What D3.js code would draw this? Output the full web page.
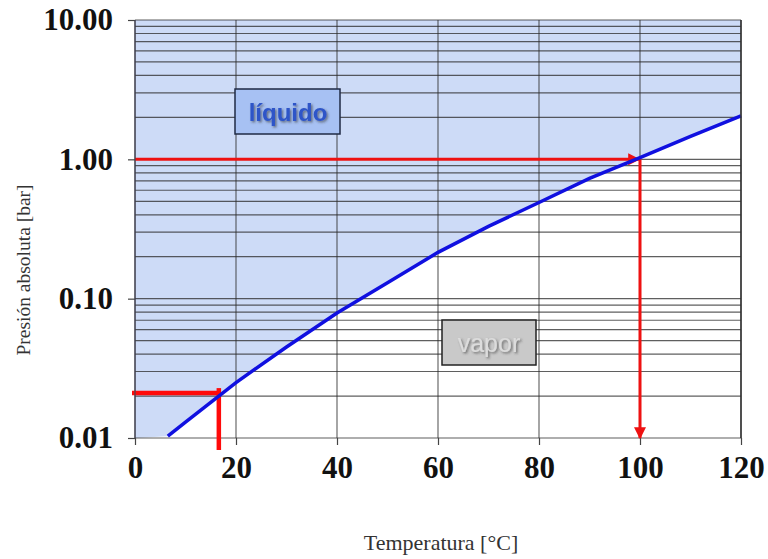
<!DOCTYPE html>
<html>
<head>
<meta charset="utf-8">
<script src="https://cdn.jsdelivr.net/npm/d3@7"></script>
<style>
  body { margin: 0; background: #fff; }
  .tick text { font-family: "Liberation Serif", serif; font-weight: bold; font-size: 31px; fill: #111; }
</style>
</head>
<body>
<div class="board"></div>
<script>
// saturation curve
var temps = [6.5, 10, 20, 30, 40, 50, 60, 70, 80, 90, 100, 110, 120];
var pressures = [0.0103, 0.013, 0.025, 0.045, 0.079, 0.13, 0.215, 0.33, 0.49, 0.73, 1.03, 1.46, 2.05];
var xTicks = [0, 20, 40, 60, 80, 100, 120];
var yTicks = [0.01, 0.1, 1, 10];
// red guide lines: [temperature, pressure]
var boilPoint = [100, 1.0];
var roomPoint = [16.6, 0.021];

var svg = d3.select('.board')
  .append('svg')
  .attr('width', 768)
  .attr('height', 559);

var x = d3.scaleLinear().domain([0, 120]).range([135, 741]);
var y = d3.scaleLog().domain([0.01, 10]).range([438, 20]);

var pts = temps.map(function(t, i) { return [t, pressures[i]]; });

// liquid region (above the curve)
var areaPts = [[0, 0.01]].concat(pts).concat([[120, 10], [0, 10]]);
svg.append('path')
  .attr('d', d3.line().x(function(d) { return x(d[0]); }).y(function(d) { return y(d[1]); })(areaPts) + 'Z')
  .style('fill', '#cddbf7');

// grid
var minor = [];
[0.01, 0.1, 1].forEach(function(dec) {
  for (var k = 1; k <= 9; k++) minor.push(dec * k);
});
minor.push(10);
svg.selectAll('.hgrid')
  .data(minor)
  .enter()
  .append('line')
  .attr('x1', x(0)).attr('x2', x(120))
  .attr('y1', function(d) { return y(d); })
  .attr('y2', function(d) { return y(d); })
  .style('stroke', '#2a2a2a')
  .style('stroke-opacity', 0.75)
  .style('stroke-width', 1.2);

svg.selectAll('.vgrid')
  .data(xTicks)
  .enter()
  .append('line')
  .attr('x1', function(d) { return x(d); })
  .attr('x2', function(d) { return x(d); })
  .attr('y1', y(10)).attr('y2', y(0.01))
  .style('stroke', '#2a2a2a')
  .style('stroke-opacity', 0.7)
  .style('stroke-width', 1.2);

// axes
var yAxis = svg.append('g')
  .attr('transform', 'translate(' + x(0) + ',0)')
  .call(d3.axisLeft(y).tickValues(yTicks).tickFormat(d3.format('.2f')).tickSize(7).tickPadding(15));
var xAxis = svg.append('g')
  .attr('transform', 'translate(0,' + y(0.01) + ')')
  .call(d3.axisBottom(x).tickValues(xTicks).tickSize(7).tickPadding(11));
[yAxis, xAxis].forEach(function(a) {
  a.select('.domain').remove();
  a.selectAll('.tick line').style('stroke', '#444').style('stroke-width', 1.2);
});

// red guides
var marker = svg.append('defs');
marker.append('marker')
  .attr('id', 'arr')
  .attr('viewBox', '0 0 10 10')
  .attr('refX', 9).attr('refY', 5)
  .attr('markerWidth', 4).attr('markerHeight', 4)
  .attr('orient', 'auto')
  .append('path')
  .attr('d', 'M0,0 L10,5 L0,10 Z')
  .style('fill', '#ee1111');

svg.append('line')
  .attr('x1', x(0)).attr('x2', x(boilPoint[0]) - 1)
  .attr('y1', y(boilPoint[1])).attr('y2', y(boilPoint[1]))
  .attr('marker-end', 'url(#arr)')
  .style('stroke', '#ee1111').style('stroke-width', 3);
svg.append('line')
  .attr('x1', x(boilPoint[0])).attr('x2', x(boilPoint[0]))
  .attr('y1', y(boilPoint[1])).attr('y2', y(0.01))
  .attr('marker-end', 'url(#arr)')
  .style('stroke', '#ee1111').style('stroke-width', 3);

svg.append('line')
  .attr('x1', x(0) - 3).attr('x2', x(roomPoint[0]) + 2)
  .attr('y1', y(roomPoint[1])).attr('y2', y(roomPoint[1]))
  .style('stroke', '#ff0a0a').style('stroke-width', 4.5);
svg.append('line')
  .attr('x1', x(roomPoint[0])).attr('x2', x(roomPoint[0]))
  .attr('y1', y(roomPoint[1]) - 5).attr('y2', y(0.01) + 12)
  .style('stroke', '#ff0a0a').style('stroke-width', 4.5);

// saturation curve
svg.append('path')
  .attr('d', d3.line().x(function(d) { return x(d[0]); }).y(function(d) { return y(d[1]); })(pts))
  .style('fill', 'none')
  .style('stroke', '#1010e0')
  .style('stroke-width', 3.5);

// plot border sides
svg.append('line').attr('x1', x(0)).attr('x2', x(0)).attr('y1', y(10)).attr('y2', y(0.01))
  .style('stroke', '#445').style('stroke-width', 1.2);
svg.append('line').attr('x1', x(120)).attr('x2', x(120)).attr('y1', y(10)).attr('y2', y(0.01))
  .style('stroke', '#333').style('stroke-width', 1.5);

// region labels
var shadow = svg.select('defs').append('filter').attr('id', 'sh')
  .attr('x', '-10%').attr('y', '-10%').attr('width', '130%').attr('height', '140%');
shadow.append('feDropShadow').attr('dx', 1.5).attr('dy', 1.5).attr('stdDeviation', 0.8)
  .attr('flood-color', '#333').attr('flood-opacity', 0.6);

svg.append('rect')
  .attr('x', 235).attr('y', 89).attr('width', 105).attr('height', 45)
  .style('fill', '#a7c1f3').style('stroke', '#1f2a44').style('stroke-width', 1.5);
svg.append('text')
  .attr('x', 288).attr('y', 121)
  .attr('text-anchor', 'middle')
  .attr('filter', 'url(#sh)')
  .style('font-family', 'Liberation Sans, Arial, sans-serif')
  .style('font-weight', 'bold')
  .style('font-size', '24px')
  .style('fill', '#2d55c8')
  .text('líquido');

svg.append('rect')
  .attr('x', 442).attr('y', 320).attr('width', 94).attr('height', 45)
  .style('fill', '#c9c9c9').style('stroke', '#222').style('stroke-width', 1.5);
svg.append('text')
  .attr('x', 489).attr('y', 352)
  .attr('text-anchor', 'middle')
  .attr('filter', 'url(#sh)')
  .style('font-family', 'Liberation Sans, Arial, sans-serif')
  .style('font-size', '25px')
  .style('fill', '#dcdcdc')
  .text('vapor');

// axis titles
svg.append('text')
  .attr('transform', 'translate(30,270) rotate(-90)')
  .attr('text-anchor', 'middle')
  .style('font-family', 'Liberation Serif, serif')
  .style('font-size', '19.5px')
  .style('fill', '#333')
  .text('Presión absoluta [bar]');
svg.append('text')
  .attr('x', 441).attr('y', 550)
  .attr('text-anchor', 'middle')
  .style('font-family', 'Liberation Serif, serif')
  .style('font-size', '22px')
  .style('fill', '#333')
  .text('Temperatura [°C]');
</script>
</body>
</html>
